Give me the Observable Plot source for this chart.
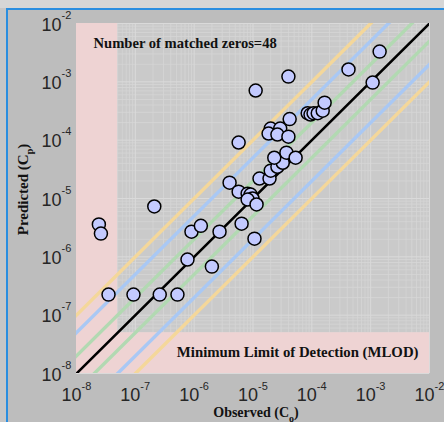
<!DOCTYPE html>
<html>
<head>
<meta charset="utf-8">
<script src="https://cdn.jsdelivr.net/npm/d3@7"></script>
<script src="https://cdn.jsdelivr.net/npm/@observablehq/plot@0.6"></script>
<style>
  html, body { margin: 0; padding: 0; }
  body { width: 444px; height: 422px; overflow: hidden; position: relative; background: #bdbdbd; }
  #topstrip { position: absolute; left: 0; top: 0; width: 444px; height: 8px; background: #d6d6d6; }
  #leftstrip { position: absolute; left: 0; top: 8px; width: 6px; height: 414px; background: #c6c6c6; }
  #hline { position: absolute; left: 6px; top: 8px; width: 438px; height: 1.5px; background: #2a8ee0; }
  #vline { position: absolute; left: 6px; top: 8px; width: 1.5px; height: 414px; background: #2a8ee0; }
  #chart { position: absolute; left: 0; top: 0; }
</style>
</head>
<body>
<div id="topstrip"></div>
<div id="leftstrip"></div>
<div id="hline"></div>
<div id="vline"></div>
<div id="chart"></div>
<script>
// Observed concentrations (C_o) and predicted (C_p)
const observed = [
  2.4e-8, 2.6e-8, 3.5e-8, 9.3e-8, 2.6e-7, 5.2e-7, 2.1e-7, 7.7e-7, 9.0e-7, 1.3e-6,
  2.0e-6, 2.7e-6, 6.4e-6, 1.06e-5, 4.0e-6, 5.7e-6, 8.1e-6, 9.1e-6, 9.8e-6, 8.1e-6,
  1.15e-5, 5.7e-6, 1.11e-5, 4.0e-5, 1.29e-5, 1.91e-5, 2.0e-5, 2.6e-5, 3.2e-5, 2.3e-5,
  3.7e-5, 5.3e-5, 2.0e-5, 2.9e-5, 1.84e-5, 2.6e-5, 4.0e-5, 4.2e-5, 8.5e-5, 9.5e-5,
  1.07e-4, 1.26e-4, 1.53e-4, 1.65e-4, 4.2e-4, 1.08e-3, 1.42e-3
];
const predicted = [
  3.6e-6, 2.5e-6, 2.25e-7, 2.25e-7, 2.25e-7, 2.25e-7, 7.3e-6, 9.0e-7, 2.7e-6, 3.4e-6,
  6.8e-7, 2.7e-6, 3.7e-6, 2.05e-6, 1.87e-5, 1.31e-5, 1.21e-5, 1.17e-5, 1.0e-5, 9.6e-6,
  7.9e-6, 9.1e-5, 7.1e-4, 1.23e-3, 2.2e-5, 2.2e-5, 3.0e-5, 3.5e-5, 4.1e-5, 5.0e-5,
  6.1e-5, 5.0e-5, 1.58e-4, 1.58e-4, 1.30e-4, 1.25e-4, 1.15e-4, 2.3e-4, 2.9e-4, 2.75e-4,
  2.9e-4, 2.9e-4, 3.2e-4, 4.4e-4, 1.63e-3, 9.7e-4, 3.3e-3
];
// Factor-of-agreement lines and their colours
const factors = [10, 5, 2, 1, 0.5, 0.2, 0.1];
const factorColors = ["#f4d79a", "#a9c8f4", "#b2d9b2", "#000000", "#b2d9b2", "#a9c8f4", "#f4d79a"];
const mlod = 5e-8;               // minimum limit of detection
const tickExponents = [-8, -7, -6, -5, -4, -3, -2];
const matchedZeros = 48;
const titleText = "Number of matched zeros=" + matchedZeros;
const mlodText = "Minimum Limit of Detection (MLOD)";

const pts = observed.map((o, i) => ({o, p: predicted[i]}));
const domain = [1e-8, 1e-2];
const minor = d3.range(-8, -2).flatMap(e => d3.range(2, 10).map(m => m * 10 ** e));
const major = tickExponents.map(e => 10 ** e);
const lineSpan = [1e-10, 1];

const serif = "'Liberation Serif', 'Times New Roman', serif";
const sans = "'Liberation Sans', Arial, Helvetica, sans-serif";

const plot = Plot.plot({
  width: 444,
  height: 422,
  marginLeft: 76,
  marginRight: 15,
  marginTop: 23,
  marginBottom: 49,
  style: {background: "transparent", overflow: "visible"},
  x: {type: "log", domain, axis: null},
  y: {type: "log", domain, axis: null},
  marks: [
    Plot.frame({fill: "#cacaca"}),
    Plot.ruleX(minor, {stroke: "#d6d6d6", strokeWidth: 0.8}),
    Plot.ruleY(minor, {stroke: "#d6d6d6", strokeWidth: 0.8}),
    Plot.ruleX(major, {stroke: "#dadada", strokeWidth: 1}),
    Plot.ruleY(major, {stroke: "#dadada", strokeWidth: 1}),
    Plot.rect([mlod], {x1: () => domain[0], x2: d => d, y1: () => domain[0], y2: () => domain[1], fill: "#eed3d3"}),
    Plot.rect([mlod], {x1: () => domain[0], x2: () => domain[1], y1: () => domain[0], y2: d => d, fill: "#eed3d3"}),
    ...factors.map((k, i) => Plot.line(lineSpan, {
      x: d => d, y: d => d * k, stroke: factorColors[i],
      strokeWidth: k === 1 ? 2.6 : 3.4, clip: true
    })),
    Plot.dot(pts, {x: "o", y: "p", r: 6.5, fill: "#c3caff", stroke: "#000", strokeWidth: 1.5}),
    // x tick labels
    Plot.text(tickExponents, {x: e => 10 ** e, frameAnchor: "bottom", text: () => "10",
      textAnchor: "end", lineAnchor: "bottom", dx: 5, dy: 27, fontSize: 18, fontFamily: sans, fill: "#262626"}),
    Plot.text(tickExponents, {x: e => 10 ** e, frameAnchor: "bottom", text: e => String(e),
      textAnchor: "start", lineAnchor: "bottom", dx: 5, dy: 16, fontSize: 11, fontFamily: sans, fill: "#262626"}),
    // y tick labels
    Plot.text(tickExponents, {y: e => 10 ** e, frameAnchor: "left", text: () => "10",
      textAnchor: "end", lineAnchor: "bottom", dx: -15, dy: 7, fontSize: 18, fontFamily: sans, fill: "#262626"}),
    Plot.text(tickExponents, {y: e => 10 ** e, frameAnchor: "left", text: e => String(e),
      textAnchor: "start", lineAnchor: "bottom", dx: -15, dy: -5, fontSize: 11, fontFamily: sans, fill: "#262626"}),
    // annotations
    Plot.text([titleText], {frameAnchor: "top-left", text: d => d, textAnchor: "start", lineAnchor: "bottom",
      dx: 17, dy: 24, fontSize: 14.6, fontWeight: "bold", fontFamily: serif, fill: "#111"}),
    Plot.text([mlodText], {frameAnchor: "bottom-right", text: d => d, textAnchor: "end", lineAnchor: "bottom",
      dx: -11, dy: -17, fontSize: 14.8, fontWeight: "bold", fontFamily: serif, fill: "#111"}),
    Plot.text(["Observed"], {frameAnchor: "bottom", text: d => d, textAnchor: "middle", lineAnchor: "bottom",
      dy: 43, dx: 3, fontSize: 14, fontWeight: "bold", fontFamily: serif, fill: "#111"}),
    Plot.text(["Predicted"], {frameAnchor: "left", text: d => d, textAnchor: "middle", lineAnchor: "bottom",
      dx: -49, dy: -9, rotate: -90, fontSize: 15, fontWeight: "bold", fontFamily: serif, fill: "#111"})
  ]
});

// add subscripts to the axis titles
function subscriptTitle(main, sub) {
  d3.select(plot).selectAll("text").filter(function() { return this.textContent === main; })
    .each(function() {
      const t = d3.select(this);
      t.text(null);
      t.append("tspan").text(main + " (C");
      t.append("tspan").attr("dy", 5).attr("font-size", 10).text(sub);
      t.append("tspan").attr("dy", -5).text(")");
    });
}
subscriptTitle("Observed", "o");
subscriptTitle("Predicted", "p");

document.getElementById("chart").appendChild(plot);
</script>
</body>
</html>
